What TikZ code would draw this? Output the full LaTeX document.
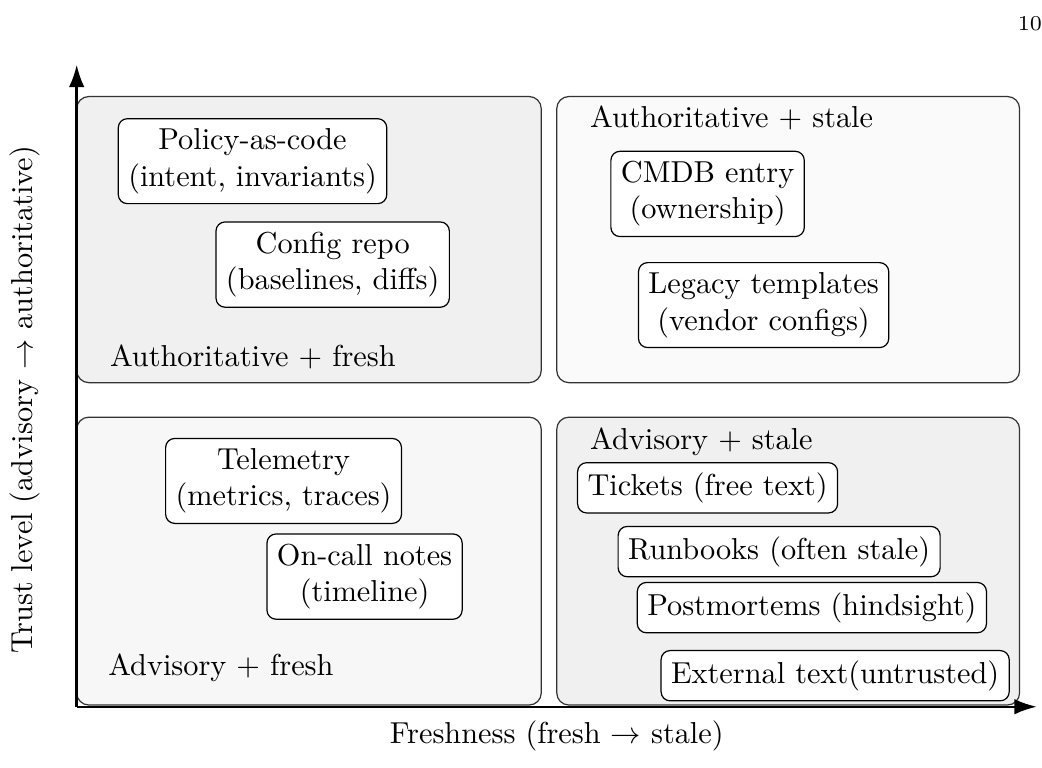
\documentclass[tikz,border=0pt]{standalone}
\usepackage{tikz}
\usepackage{amsmath}
\usepackage{amssymb}
\usetikzlibrary{arrows.meta}

\definecolor{quadA}{gray}{0.94}
\definecolor{quadB}{gray}{0.98}
\definecolor{quadC}{gray}{0.97}
\definecolor{quadD}{gray}{0.94}

\tikzset{
  srcbox/.style={draw, rounded corners=3pt, fill=white, align=center, inner sep=3.3pt},
  quadlbl/.style={anchor=west, inner sep=0pt},
  quadrant/.style={draw=black!80, rounded corners=4pt},
  axisline/.style={line width=0.8pt, -{Latex[length=2.6mm,width=1.8mm]}}
}

\begin{document}
\begin{tikzpicture}
  \useasboundingbox (-0.89,-0.71) rectangle (11.20,8.20);
  %% quadrants
  \foreach \xa/\ya/\xb/\yb/\c in {0/3.76/5.39/7.08/quadA, 5.57/3.76/10.94/7.08/quadB,
                                   0/0.02/5.39/3.36/quadC, 5.57/0.02/10.94/3.36/quadD}{
    \filldraw[quadrant, fill=\c] (\xa,\ya) rectangle (\xb,\yb);
  }

  %% axes
  \coordinate (orig) at (0,0);
  \coordinate (xend) at (11.14,0);
  \coordinate (yend) at (0,7.45);
  \draw[axisline] (orig) -- (xend);
  \draw[axisline] (orig) -- (yend);
  \node (xlbl) at (5.57,-0.34) {Freshness (fresh $\rightarrow$ stale)};
  \node[rotate=90] (ylbl) at (-0.60,3.56) {Trust level (advisory $\rightarrow$ authoritative)};

  %% quadrant labels
  \node[quadlbl] (afresh) at (0.38,4.06) {Authoritative + fresh};
  \node[quadlbl] (astale) at (5.95,6.83) {Authoritative + stale};
  \node[quadlbl] (vfresh) at (0.36,0.45) {Advisory + fresh};
  \node[quadlbl] (vstale) at (5.95,3.07) {Advisory + stale};

  %% sources
  \node[srcbox] (policy) at (2.04,6.33) {Policy-as-code\\(intent, invariants)};
  \node[srcbox] (config) at (2.97,5.13) {Config repo\\(baselines, diffs)};
  \node[srcbox] (cmdb) at (7.32,5.95) {CMDB entry\\(ownership)};
  \node[srcbox] (legacy) at (7.97,4.66) {Legacy templates\\(vendor configs)};
  \node[srcbox] (telem) at (2.40,2.62) {Telemetry\\(metrics, traces)};
  \node[srcbox] (oncall) at (3.34,1.51) {On-call notes\\(timeline)};
  \node[srcbox] (tickets) at (7.32,2.54) {Tickets (free text)};
  \node[srcbox] (runbk) at (8.15,1.80) {Runbooks (often stale)};
  \node[srcbox] (postm) at (8.53,1.15) {Postmortems (hindsight)};
  \node[srcbox] (extern) at (8.80,0.36) {External text(untrusted)};

  \node[font=\scriptsize] (pageno) at (11.06,7.93) {10};
\end{tikzpicture}
\end{document}
